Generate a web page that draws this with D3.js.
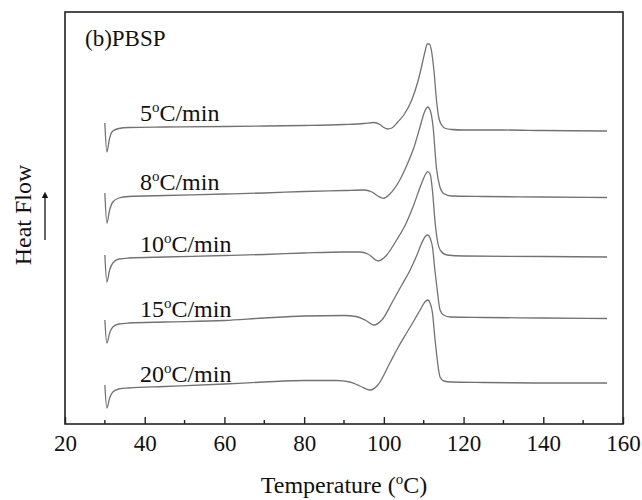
<!DOCTYPE html>
<html>
<head>
<meta charset="utf-8">
<script src="https://cdn.jsdelivr.net/npm/d3@7"></script>
<style>
  body { margin: 0; background: #fff; }
  svg { display: block; font-family: "Liberation Serif", "Times New Roman", serif; }
</style>
</head>
<body>
<div id="chart"></div>
<script>
// DSC heating curves, heat flow in arbitrary units (curves are stacked)
const rates = ["5", "8", "10", "15", "20"];

const temps5 = [30, 30.5, 31.2, 32, 33.5, 36, 45, 60, 70, 80, 90, 95, 97.5, 99, 100, 101, 102, 103.5, 105, 107, 108.5, 109.5, 110.3, 110.9, 111.4, 112, 112.6, 113.2, 113.8, 114.5, 115.5, 117, 120, 130, 140, 156];
const flow5 = [301, 272, 286, 293, 295.5, 296.5, 297, 297.5, 298, 298.5, 299.5, 300.5, 301.5, 299.5, 296.5, 295, 296, 302, 309, 324, 342, 358, 372, 380, 380, 372, 352, 324, 306, 299, 295.5, 294.5, 294, 294, 293.5, 293];

const temps8 = [30, 30.5, 31.2, 32, 33.5, 36, 45, 60, 70, 80, 90, 95, 97, 98.5, 99.9, 101.5, 104, 106, 107.5, 109, 110.2, 111, 111.6, 112.3, 113.2, 114, 115, 117, 125, 140, 156];
const flow8 = [231, 201, 214, 222, 226, 227.5, 228.5, 230, 231, 232.5, 233.5, 234, 232, 228, 225.7, 230, 244, 261, 276, 296, 312, 317, 314, 299, 256, 238, 230.5, 228, 227.5, 227, 226.5];

const temps10 = [30, 30.5, 31.2, 32, 33.5, 36, 45, 60, 70, 80, 90, 94, 96, 98.6, 100.5, 103.2, 105.5, 107.3, 109.5, 110.5, 111, 111.6, 112.3, 112.8, 113.5, 114.3, 115.8, 120, 140, 156];
const flow10 = [169, 142, 154, 161, 165, 166, 167, 168.5, 169.5, 171, 172, 172, 170, 163, 168, 184, 200, 217, 241, 250, 252.3, 250, 229, 204, 182, 173, 169, 168, 167.5, 167];

const temps15 = [30, 30.5, 31.2, 32, 33.5, 36, 45, 60, 70, 80, 90, 93, 95.5, 97.5, 99.5, 102.4, 104.5, 106.6, 108.3, 109.5, 110.5, 111, 111.6, 112.2, 112.8, 113.3, 114.1, 115, 116.7, 125, 140, 156];
const flow15 = [104, 81, 91, 97, 100, 101, 102, 103.5, 106, 108, 108.5, 107.5, 103.5, 99, 104, 124, 139, 154, 169, 181, 188, 189, 186, 177, 154, 137, 114, 109, 107, 106.5, 106, 105.5];

const temps20 = [30, 30.5, 31.2, 32, 33.5, 36, 45, 60, 70, 80, 88, 91.5, 94, 96.5, 98.5, 101.5, 103.5, 105.7, 107.5, 109.1, 110.3, 111, 111.6, 112.2, 112.8, 113.2, 114.1, 115, 117, 125, 140, 156];
const flow20 = [39, 16, 26, 32, 35, 36, 37.5, 40, 42, 43.5, 43.5, 42, 38, 34, 39, 61, 76, 91, 103, 114, 122, 124, 121, 111, 86, 71, 47, 43, 42, 41.5, 41, 41];

const xTicks = [20, 40, 60, 80, 100, 120, 140, 160];
const xMinorTicks = [30, 50, 70, 90, 110, 130, 150];

const series = [
    { rate: rates[0], t: temps5, f: flow5 },
    { rate: rates[1], t: temps8, f: flow8 },
    { rate: rates[2], t: temps10, f: flow10 },
    { rate: rates[3], t: temps15, f: flow15 },
    { rate: rates[4], t: temps20, f: flow20 }
];

var w = 642, h = 500;
var margin = { top: 12, right: 19, bottom: 76, left: 65 },
    width = w - margin.left - margin.right,
    height = h - margin.top - margin.bottom;

var svg = d3.select("#chart")
    .append("svg")
    .attr("width", w)
    .attr("height", h);

var g = svg.append("g")
    .attr("transform", `translate(${margin.left}, ${margin.top})`);

var x = d3.scaleLinear().domain([20, 160]).range([0, width]);
var y = d3.scaleLinear().domain([0, 412]).range([height, 0]);

// curves
var line = d3.line()
    .x(d => x(d[0]))
    .y(d => y(d[1]))
    .curve(d3.curveMonotoneX);

series.forEach(s => {
    var pts = s.t.map((t, i) => [t, s.f[i]]);
    g.append("path")
        .datum(pts)
        .attr("fill", "none")
        .attr("stroke", "#727272")
        .attr("stroke-width", 1.3)
        .attr("d", line);

    // label sits just above the baseline near 39 C
    var base = d3.scaleLinear().domain(s.t).range(s.f)(39);
    var lab = g.append("text")
        .attr("x", x(38.8))
        .attr("y", y(base) - 6)
        .style("font-size", "24px")
        .attr("fill", "#111");
    lab.append("tspan").text(s.rate);
    lab.append("tspan").attr("dy", -9).style("font-size", "15px").text("o");
    lab.append("tspan").attr("dy", 9).text("C/min");
});

// frame
g.append("rect")
    .attr("width", width)
    .attr("height", height)
    .attr("fill", "none")
    .attr("stroke", "#222")
    .attr("stroke-width", 1.6);

// bottom axis, ticks pointing inward
var xAxis = g.append("g")
    .attr("transform", `translate(0, ${height})`)
    .call(d3.axisBottom(x).tickValues(xTicks).tickSizeInner(-7).tickSizeOuter(0).tickPadding(11));
xAxis.select(".domain").remove();
xAxis.selectAll("line").attr("stroke", "#222").attr("stroke-width", 1.4);
xAxis.selectAll("text")
    .style("font-family", "Liberation Serif, serif")
    .style("font-size", "23px")
    .attr("fill", "#111");

g.append("g")
    .attr("transform", `translate(0, ${height})`)
    .selectAll("line")
    .data(xMinorTicks)
    .join("line")
    .attr("x1", d => x(d)).attr("x2", d => x(d))
    .attr("y1", 0).attr("y2", -4)
    .attr("stroke", "#222")
    .attr("stroke-width", 1.4);

// panel title
g.append("text")
    .attr("x", 20)
    .attr("y", 34)
    .style("font-size", "23px")
    .attr("fill", "#111")
    .text("(b)PBSP");

// x axis title
var xt = svg.append("text")
    .attr("x", margin.left + width / 2)
    .attr("y", 493)
    .attr("text-anchor", "middle")
    .style("font-size", "24px")
    .attr("fill", "#111");
xt.append("tspan").text("Temperature (");
xt.append("tspan").attr("dy", -9).style("font-size", "15px").text("o");
xt.append("tspan").attr("dy", 9).text("C)");

// y axis title with arrow
svg.append("text")
    .attr("transform", "translate(31, 215) rotate(-90)")
    .attr("text-anchor", "middle")
    .style("font-size", "24px")
    .attr("fill", "#111")
    .text("Heat Flow");

svg.append("defs").append("marker")
    .attr("id", "head")
    .attr("viewBox", "0 0 10 10")
    .attr("refX", 5).attr("refY", 5)
    .attr("markerWidth", 5).attr("markerHeight", 7)
    .attr("orient", "auto")
    .append("path")
    .attr("d", "M0,0 L10,5 L0,10 Z")
    .attr("fill", "#111");

svg.append("line")
    .attr("x1", 45).attr("x2", 45)
    .attr("y1", 240).attr("y2", 195)
    .attr("stroke", "#111")
    .attr("stroke-width", 1.3)
    .attr("marker-end", "url(#head)");
</script>
</body>
</html>
